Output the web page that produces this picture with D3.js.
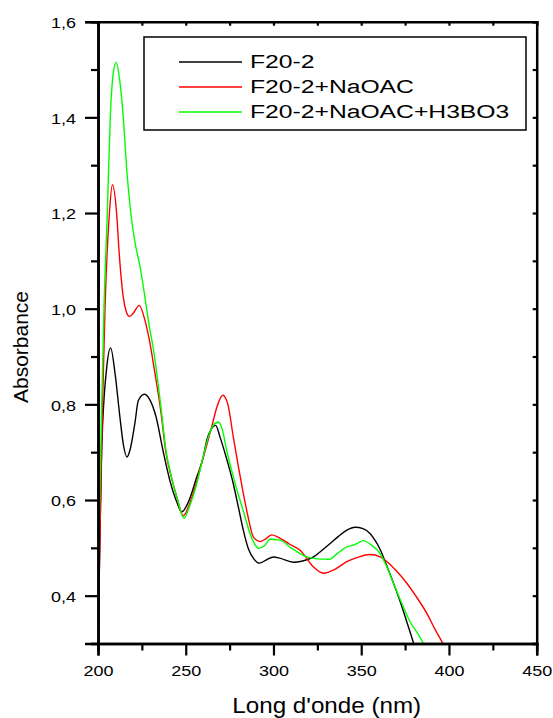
<!DOCTYPE html>
<html>
<head>
<meta charset="utf-8">
<script src="https://cdn.jsdelivr.net/npm/d3@7/dist/d3.min.js"></script>
<style>
  html, body { margin: 0; padding: 0; background: #fff; }
  svg { display: block; }
  text { font-family: "Liberation Sans", Arial, sans-serif; fill: #000; }
</style>
</head>
<body>
<svg id="chart" width="553" height="718"></svg>
<script>
// ---- data ----
const seriesNames = ["F20-2", "F20-2+NaOAC", "F20-2+NaOAC+H3BO3"];
const seriesColors = ["#000000", "#ff0000", "#00ff00"];

const f20_wl  = [200, 201, 202.1, 205, 207.2, 209.7, 212.5, 214.5, 216.5, 218.2, 221, 223, 226.4, 229.5, 233, 237, 241, 245, 247.7, 252, 256, 260, 262, 264.5, 267.1, 269.5, 273, 277.1, 280, 282.8, 285.7, 289, 292, 296, 300, 304, 311.3, 316, 322.8, 327, 332.3, 337, 341.8, 346.5, 351, 355, 358, 361, 364, 368, 372, 376, 380, 382];
const f20_abs = [0.29, 0.50, 0.704, 0.878, 0.918, 0.865, 0.773, 0.715, 0.69, 0.704, 0.76, 0.808, 0.821, 0.81, 0.775, 0.704, 0.64, 0.595, 0.575, 0.60, 0.645, 0.69, 0.725, 0.748, 0.756, 0.732, 0.69, 0.634, 0.585, 0.537, 0.498, 0.476, 0.468, 0.475, 0.481, 0.478, 0.47, 0.472, 0.481, 0.493, 0.509, 0.524, 0.537, 0.543, 0.540, 0.530, 0.515, 0.495, 0.468, 0.43, 0.39, 0.345, 0.298, 0.27];

const naoac_wl  = [200, 201, 202, 203, 204, 206.5, 208.2, 210.6, 212.1, 214.4, 216, 217.8, 220, 223.5, 226.8, 229.5, 232, 236, 238.5, 242, 245, 248.6, 252, 256, 259, 262, 264.8, 268, 271.1, 274, 277.1, 280, 282.8, 285.5, 288.5, 292.4, 296, 299, 303.8, 309, 315.2, 322.8, 328.4, 335, 341.8, 348, 355, 360.8, 365, 370, 376, 381, 387.4, 392, 396.5, 399];
const naoac_abs = [0.30, 0.50, 0.70, 0.86, 1.0, 1.2, 1.259, 1.2, 1.115, 1.024, 0.995, 0.984, 0.99, 1.007, 0.975, 0.93, 0.875, 0.78, 0.704, 0.645, 0.605, 0.567, 0.59, 0.635, 0.676, 0.715, 0.753, 0.797, 0.819, 0.80, 0.732, 0.67, 0.614, 0.565, 0.523, 0.513, 0.52, 0.527, 0.52, 0.508, 0.495, 0.46, 0.447, 0.455, 0.471, 0.48, 0.486, 0.481, 0.47, 0.452, 0.426, 0.40, 0.363, 0.33, 0.30, 0.28];

const boric_wl  = [200, 201, 202, 203.4, 205.3, 207, 208.6, 210.3, 212.3, 214.4, 216.4, 218.7, 221, 224, 226.5, 228.7, 232, 236, 238.5, 242, 245, 249, 252, 256, 259, 262.9, 265.5, 268.5, 271, 273.3, 277, 280.9, 283.8, 286.6, 289, 291.4, 295, 298, 303.8, 310, 319, 325, 331.8, 336, 341.8, 345, 348, 351.3, 355, 360.8, 364, 368.4, 373, 377.9, 382, 385.5, 388];
const boric_abs = [0.41, 0.60, 0.78, 1.0, 1.2, 1.4, 1.49, 1.515, 1.48, 1.40, 1.29, 1.20, 1.14, 1.087, 1.03, 0.975, 0.905, 0.79, 0.71, 0.645, 0.605, 0.562, 0.585, 0.63, 0.676, 0.732, 0.755, 0.763, 0.745, 0.704, 0.65, 0.60, 0.565, 0.53, 0.51, 0.499, 0.505, 0.518, 0.516, 0.50, 0.481, 0.477, 0.476, 0.487, 0.502, 0.505, 0.51, 0.515, 0.508, 0.488, 0.465, 0.426, 0.385, 0.345, 0.322, 0.30, 0.28];

const xMajorTicks = [200, 250, 300, 350, 400, 450];
const xMinorTicks = [225, 275, 325, 375, 425];
const yMajorTicks = [0.4, 0.6, 0.8, 1.0, 1.2, 1.4, 1.6];
const yMinorTicks = [0.3, 0.5, 0.7, 0.9, 1.1, 1.3, 1.5];
const xDomain = [200, 450];
const yDomain = [0.3, 1.6];
const xTitle = "Long d'onde (nm)";
const yTitle = "Absorbance";

// ---- layout ----
const W = 553, H = 718;
const margin = { left: 98, right: 16.3, top: 21.7, bottom: 74.5 };
const pw = W - margin.left - margin.right;
const ph = H - margin.top - margin.bottom;

const svg = d3.select("#chart");
const g = svg.append("g").attr("transform", `translate(${margin.left},${margin.top})`);

const x = d3.scaleLinear().domain(xDomain).range([0, pw]);
const y = d3.scaleLinear().domain(yDomain).range([ph, 0]);

const commaFmt = v => d3.format(".1f")(v).replace(".", ",");

// clip
svg.append("defs").append("clipPath").attr("id", "plotclip")
  .append("rect").attr("x", 0).attr("y", 0).attr("width", pw).attr("height", ph);

// curves
const seriesWl = [f20_wl, naoac_wl, boric_wl];
const seriesAbs = [f20_abs, naoac_abs, boric_abs];
const line = d3.line().x(d => x(d[0])).y(d => y(d[1])).curve(d3.curveMonotoneX);
const curves = g.append("g").attr("clip-path", "url(#plotclip)");
seriesNames.forEach((name, i) => {
  const pts = seriesWl[i].map((w, j) => [w, seriesAbs[i][j]]);
  curves.append("path")
    .datum(pts)
    .attr("d", line)
    .attr("fill", "none")
    .attr("stroke", seriesColors[i])
    .attr("stroke-width", 1.4);
});

function styleAxis(sel) {
  sel.select(".domain").attr("stroke", "#000").attr("stroke-width", 2.5);
  sel.selectAll(".tick line").attr("stroke", "#000").attr("stroke-width", 2.2);
}

// bottom axis: minor and major
g.append("g").attr("transform", `translate(0,${ph})`)
  .call(d3.axisBottom(x).tickValues(xMinorTicks).tickSize(7).tickFormat(""))
  .call(styleAxis);
const xAx = g.append("g").attr("transform", `translate(0,${ph})`)
  .call(d3.axisBottom(x).tickValues(xMajorTicks).tickSize(12).tickFormat(d3.format("d")))
  .call(styleAxis);
xAx.selectAll(".tick text")
  .attr("y", 22).attr("dy", "0.71em")
  .attr("transform", "scale(1.2,1)")
  .style("font-size", "15px")
  .style("font-family", "'Liberation Sans', Arial, sans-serif")
  .attr("fill", "#000");

// left axis
g.append("g")
  .call(d3.axisLeft(y).tickValues(yMinorTicks).tickSize(7).tickFormat(""))
  .call(styleAxis);
const yAx = g.append("g")
  .call(d3.axisLeft(y).tickValues(yMajorTicks).tickSize(13).tickFormat(commaFmt))
  .call(styleAxis);
yAx.selectAll(".tick text")
  .attr("x", -22 / 1.2).attr("dy", "0.38em")
  .attr("transform", "scale(1.2,1)")
  .style("font-size", "15px")
  .style("font-family", "'Liberation Sans', Arial, sans-serif")
  .attr("fill", "#000");

// top axis (inward ticks)
g.append("g")
  .call(d3.axisTop(x).tickValues(xMajorTicks.concat(xMinorTicks)).tickSize(-4).tickFormat(""))
  .call(styleAxis);
// right axis (inward ticks)
g.append("g").attr("transform", `translate(${pw},0)`)
  .call(d3.axisRight(y).tickValues(yMajorTicks.concat(yMinorTicks)).tickSize(-4).tickFormat(""))
  .call(styleAxis);

// axis titles
svg.append("text")
  .attr("transform", `translate(326.7,712.5) scale(1.1,1)`)
  .attr("text-anchor", "middle")
  .style("font-size", "22px")
  .text(xTitle);

svg.append("text")
  .attr("transform", `translate(28,347) rotate(-90)`)
  .attr("text-anchor", "middle")
  .style("font-size", "21px")
  .text(yTitle);

// legend
const leg = svg.append("g");
leg.append("rect")
  .attr("x", 144).attr("y", 37).attr("width", 382).attr("height", 93)
  .attr("fill", "#fff").attr("stroke", "#000").attr("stroke-width", 1.5);
const rowY = [62, 87, 112];
seriesNames.forEach((name, i) => {
  leg.append("line")
    .attr("x1", 179).attr("x2", 242)
    .attr("y1", rowY[i]).attr("y2", rowY[i])
    .attr("stroke", seriesColors[i]).attr("stroke-width", 1.4);
  leg.append("text")
    .attr("transform", `translate(250,${rowY[i] + 5.8}) scale(1.3,1)`)
    .style("font-size", "19px")
    .text(name);
});
</script>
</body>
</html>
